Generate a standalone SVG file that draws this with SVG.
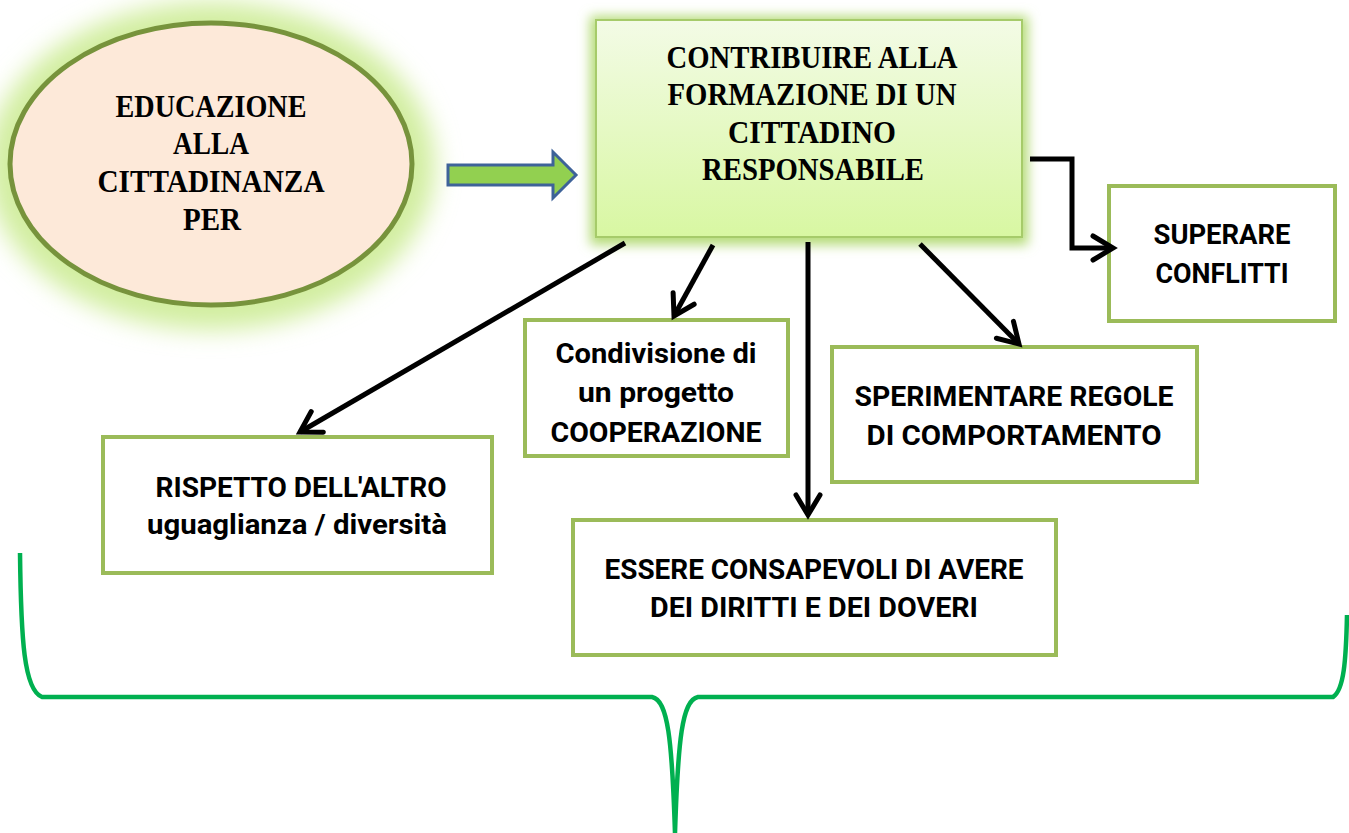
<svg xmlns="http://www.w3.org/2000/svg" width="1349" height="833" viewBox="0 0 1349 833">
<defs>
<style>
.serif{font-family:"Liberation Serif","Times New Roman",serif;font-weight:bold;font-size:32px;fill:#000;text-anchor:middle}
.sans{font-family:Roboto,"Liberation Sans",Arial,sans-serif;font-weight:bold;font-size:27px;fill:#000;text-anchor:middle}
.box{fill:#fff;stroke:#9BBB59;stroke-width:4}
.conn{fill:none;stroke:#000;stroke-width:5}
</style>
<filter id="glow" x="-30%" y="-30%" width="160%" height="160%">
<feGaussianBlur stdDeviation="12"/>
</filter>
<filter id="glow2" x="-20%" y="-20%" width="140%" height="140%">
<feGaussianBlur stdDeviation="6"/>
</filter>
<linearGradient id="mainFill" x1="0" y1="0" x2="0" y2="1">
<stop offset="0" stop-color="#F3FBE6"/>
<stop offset="1" stop-color="#D8F7A2"/>
</linearGradient>
<marker id="chev" viewBox="-28 -18 32 36" markerWidth="32" markerHeight="36" refX="0" refY="0" orient="auto" markerUnits="userSpaceOnUse" overflow="visible">
<path d="M-20,-12 L0,0 L-20,12" fill="none" stroke="#000" stroke-width="5" stroke-linecap="round" stroke-linejoin="miter"/>
</marker>
</defs>
<rect width="1349" height="833" fill="#fff"/>

<g id="brace">
<path d="M20,553 C21,640 24,690 42,697 L652,697 C668,700 672,740 675,833 C678,740 682,700 698,697 L1333,697 C1344,690 1346,660 1347,615" fill="none" stroke="#00B050" stroke-width="4.5"/>
</g>

<g id="node-educazione">
<ellipse cx="211" cy="166" rx="224" ry="164" fill="#D2EEA0" filter="url(#glow)"/>
<ellipse cx="211" cy="164" rx="201" ry="141" fill="#FDE9D9" stroke="#77933C" stroke-width="5"/>
<text class="serif" x="211" y="117" textLength="191" lengthAdjust="spacingAndGlyphs">EDUCAZIONE</text>
<text class="serif" x="211" y="154" textLength="76" lengthAdjust="spacingAndGlyphs">ALLA</text>
<text class="serif" x="211" y="192" textLength="227" lengthAdjust="spacingAndGlyphs">CITTADINANZA</text>
<text class="serif" x="212" y="230" textLength="58" lengthAdjust="spacingAndGlyphs">PER</text>
</g>

<g id="node-contribuire">
<rect x="590" y="16" width="438" height="229" fill="#B5DC78" filter="url(#glow2)"/>
<rect x="596" y="20" width="426" height="217" fill="url(#mainFill)" stroke="#A6CB6A" stroke-width="2"/>
<text class="serif" x="812" y="68" textLength="291" lengthAdjust="spacingAndGlyphs">CONTRIBUIRE ALLA</text>
<text class="serif" x="812" y="105" textLength="289" lengthAdjust="spacingAndGlyphs">FORMAZIONE DI UN</text>
<text class="serif" x="812" y="143" textLength="168" lengthAdjust="spacingAndGlyphs">CITTADINO</text>
<text class="serif" x="813" y="180" textLength="222" lengthAdjust="spacingAndGlyphs">RESPONSABILE</text>
</g>

<g id="node-superare">
<rect class="box" x="1109" y="186" width="226" height="135"/>
<text class="sans" x="1222" y="244" textLength="137" lengthAdjust="spacingAndGlyphs">SUPERARE</text>
<text class="sans" x="1222" y="283" textLength="133" lengthAdjust="spacingAndGlyphs">CONFLITTI</text>
</g>

<g id="node-condivisione">
<rect class="box" x="525" y="320" width="263" height="136"/>
<text class="sans" x="656" y="363" textLength="201" lengthAdjust="spacingAndGlyphs">Condivisione di</text>
<text class="sans" x="656" y="402" textLength="156" lengthAdjust="spacingAndGlyphs">un progetto</text>
<text class="sans" x="656" y="442" textLength="211" lengthAdjust="spacingAndGlyphs">COOPERAZIONE</text>
</g>

<g id="node-sperimentare">
<rect class="box" x="832" y="347" width="365" height="135"/>
<text class="sans" x="1014" y="406" textLength="319" lengthAdjust="spacingAndGlyphs">SPERIMENTARE REGOLE</text>
<text class="sans" x="1014" y="445" textLength="295" lengthAdjust="spacingAndGlyphs">DI COMPORTAMENTO</text>
</g>

<g id="node-rispetto">
<rect class="box" x="103" y="437" width="389" height="136"/>
<text class="sans" x="301" y="497" textLength="291" lengthAdjust="spacingAndGlyphs">RISPETTO DELL'ALTRO</text>
<text class="sans" x="297" y="534" textLength="300" lengthAdjust="spacingAndGlyphs">uguaglianza / diversità</text>
</g>

<g id="node-essere">
<rect class="box" x="573" y="520" width="483" height="135"/>
<text class="sans" x="814" y="579" textLength="419" lengthAdjust="spacingAndGlyphs">ESSERE CONSAPEVOLI DI AVERE</text>
<text class="sans" x="814" y="617" textLength="328" lengthAdjust="spacingAndGlyphs">DEI DIRITTI E DEI DOVERI</text>
</g>

<g id="connectors">
<polygon points="448,165 553,165 553,152 576,175 553,198 553,185 448,185" fill="#92D050" stroke="#3E6399" stroke-width="3"/>
<path class="conn" d="M1030,159 L1072,159 L1072,248 L1113,248" marker-end="url(#chev)"/>
<line class="conn" x1="625" y1="243" x2="300" y2="432" marker-end="url(#chev)"/>
<line class="conn" x1="713" y1="245" x2="674" y2="316" marker-end="url(#chev)"/>
<line class="conn" x1="808" y1="242" x2="808" y2="515" marker-end="url(#chev)"/>
<line class="conn" x1="920" y1="244" x2="1019" y2="344" marker-end="url(#chev)"/>
</g>
</svg>
